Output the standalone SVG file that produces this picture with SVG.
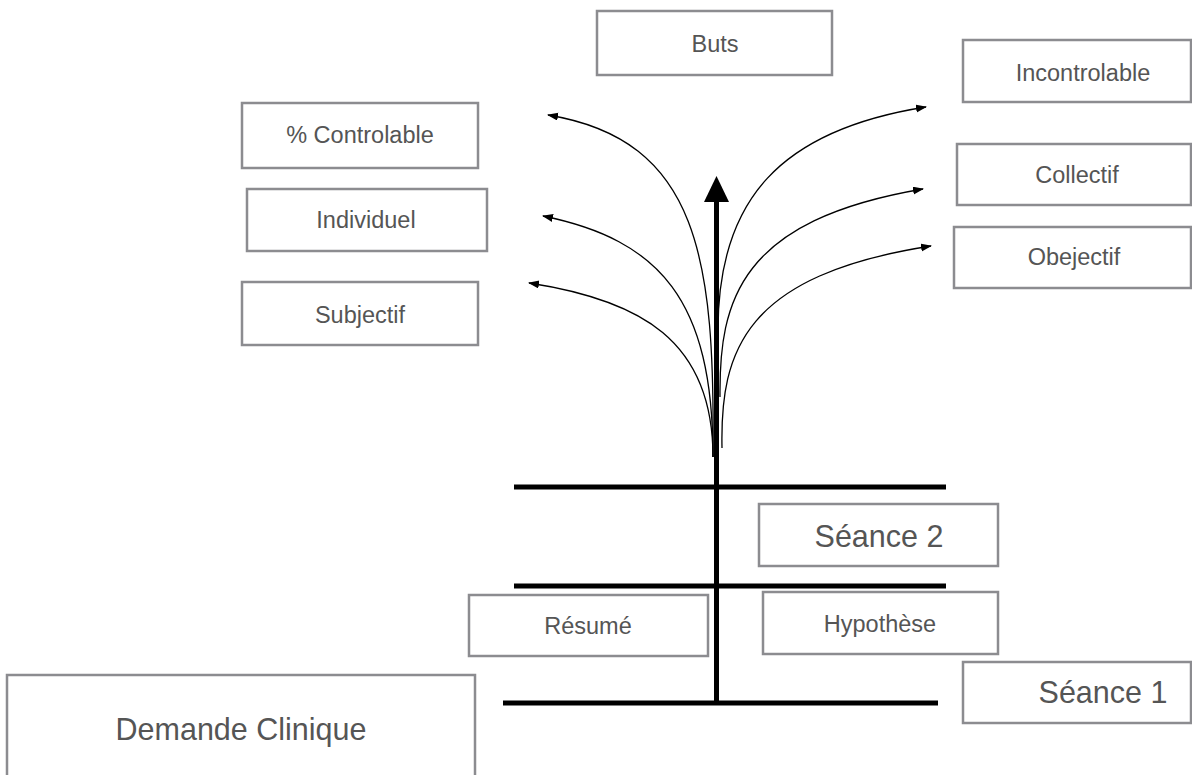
<svg xmlns="http://www.w3.org/2000/svg" width="1192" height="775" viewBox="0 0 1192 775">
<style>
.box{fill:#fff;stroke:#8c8c90;stroke-width:2.5}
.t{font-family:"Liberation Sans",Arial,sans-serif;fill:#555;text-anchor:middle}
.s{font-size:23.5px}
.l{font-size:30.5px}
.bar{stroke:#000;stroke-width:5;fill:none}
.c{stroke:#000;stroke-width:1.3;fill:none;marker-end:url(#ah)}
</style>
<defs>
<marker id="ah" markerUnits="userSpaceOnUse" markerWidth="12" markerHeight="10" refX="10" refY="4" orient="auto">
<path d="M0,0 L11,4 L0,8 Z" fill="#000"/>
</marker>
</defs>
<g id="connectors">
<line class="bar" x1="514" y1="487" x2="946" y2="487"/>
<line class="bar" x1="514" y1="586" x2="946" y2="586"/>
<line class="bar" x1="503" y1="703" x2="938" y2="703"/>
<path class="c" d="M713,457 C715,260 700,140 548,115"/>
<path class="c" d="M713,457 C713,300 660,240 543,216"/>
<path class="c" d="M713,457 C713,340 640,300 529,283"/>
<path class="c" d="M718,330 C718,200 780,130 926,107"/>
<path class="c" d="M720,397 C719,300 740,220 923,189"/>
<path class="c" d="M722,448 C720,350 745,275 931,246"/>
<line class="bar" x1="716.5" y1="703" x2="716.5" y2="200"/>
<path d="M716.5,176 L704,202 L729,202 Z" fill="#000"/>
</g>
<g id="buts"><rect class="box" x="597" y="11" width="235" height="64"/><text class="t s" x="715" y="52">Buts</text></g>
<g id="incontrolable"><rect class="box" x="963" y="40" width="228" height="62"/><text class="t s" x="1083" y="81">Incontrolable</text></g>
<g id="controlable"><rect class="box" x="242" y="103" width="236" height="65"/><text class="t s" x="360" y="143">% Controlable</text></g>
<g id="collectif"><rect class="box" x="957" y="144" width="234" height="61"/><text class="t s" x="1077" y="183">Collectif</text></g>
<g id="individuel"><rect class="box" x="247" y="189" width="240" height="62"/><text class="t s" x="366" y="228">Individuel</text></g>
<g id="obejectif"><rect class="box" x="954" y="227" width="237" height="61"/><text class="t s" x="1074" y="265">Obejectif</text></g>
<g id="subjectif"><rect class="box" x="242" y="282" width="236" height="63"/><text class="t s" x="360" y="323">Subjectif</text></g>
<g id="seance2"><rect class="box" x="759" y="504" width="239" height="62"/><text class="t l" x="879" y="547">Séance 2</text></g>
<g id="resume"><rect class="box" x="469" y="595" width="239" height="61"/><text class="t s" x="588" y="634">Résumé</text></g>
<g id="hypothese"><rect class="box" x="763" y="592" width="235" height="62"/><text class="t s" x="880" y="632">Hypothèse</text></g>
<g id="seance1"><rect class="box" x="963" y="662" width="228" height="61"/><text class="t l" x="1103" y="703">Séance 1</text></g>
<g id="demande"><rect class="box" x="7" y="675" width="468" height="110"/><text class="t l" x="241" y="740">Demande Clinique</text></g>
</svg>
